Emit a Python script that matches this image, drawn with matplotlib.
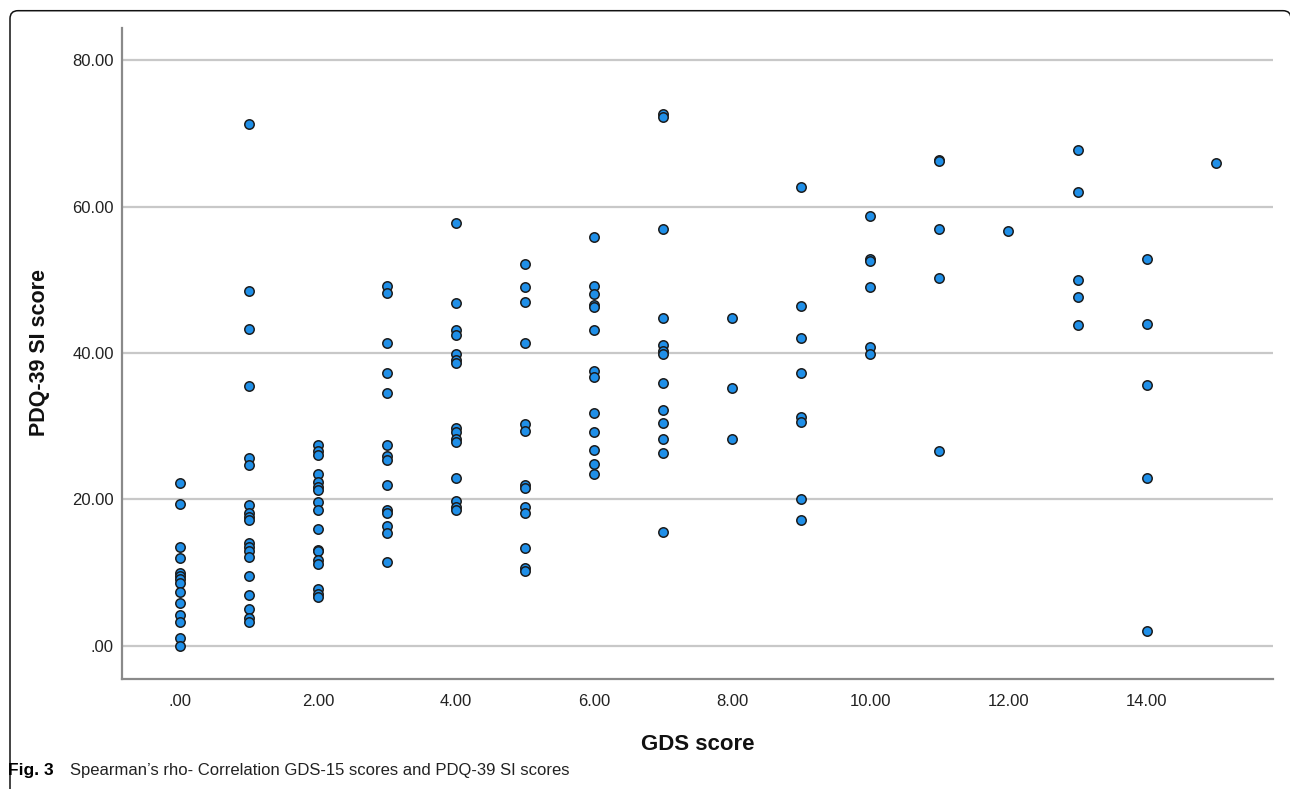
import matplotlib
matplotlib.use("Agg")
import matplotlib.pyplot as plt
from matplotlib.patches import FancyBboxPatch
from matplotlib.ticker import FuncFormatter

# GDS score (x) levels and the PDQ-39 SI scores read at each level
gds_levels = [0, 1, 2, 3, 4, 5, 6, 7, 8, 9, 10, 11, 12, 13, 14, 15]
pdq_by_level = [
    [22.3, 19.4, 13.5, 12.0, 9.9, 9.5, 9.1, 8.5, 7.3, 5.8, 4.2, 3.2, 1.0, 0.0],
    [71.3, 48.5, 43.3, 35.5, 25.6, 24.7, 19.2, 18.1, 17.6, 17.2, 14.1, 13.5, 13.0, 12.1, 9.5, 6.9, 5.0, 3.8, 3.3],
    [27.4, 26.6, 26.0, 23.5, 22.4, 21.7, 21.3, 19.7, 18.5, 16.0, 13.1, 12.9, 11.7, 11.2, 7.7, 7.0, 6.7],
    [49.1, 48.2, 41.3, 37.2, 34.5, 27.4, 25.9, 25.4, 21.9, 18.6, 18.1, 16.3, 15.4, 11.4],
    [57.8, 46.8, 43.1, 42.4, 39.9, 39.1, 38.6, 29.7, 29.2, 28.2, 27.9, 22.9, 19.8, 19.0, 18.5],
    [52.1, 49.0, 47.0, 41.4, 30.3, 29.4, 22.0, 21.5, 19.0, 18.1, 13.3, 10.6, 10.2],
    [55.8, 49.2, 48.0, 46.5, 46.3, 43.2, 37.5, 36.7, 31.8, 29.2, 26.7, 24.8, 23.5],
    [72.6, 72.3, 56.9, 44.8, 41.1, 40.3, 39.9, 35.9, 32.2, 30.4, 28.3, 26.3, 15.5],
    [44.8, 35.2, 28.3],
    [62.7, 46.4, 42.0, 37.2, 31.2, 30.6, 20.0, 17.2],
    [58.7, 52.8, 52.6, 49.0, 40.8, 39.8],
    [66.4, 66.3, 56.9, 50.3, 26.6],
    [56.7],
    [67.8, 62.0, 50.0, 47.6, 43.8],
    [52.9, 44.0, 35.6, 22.9, 2.0],
    [66.0],
]
x_ticks = [0, 2, 4, 6, 8, 10, 12, 14]
y_ticks = [0, 20, 40, 60, 80]

gds = []
pdq = []
for level, values in zip(gds_levels, pdq_by_level):
    for v in values:
        gds.append(level)
        pdq.append(v)


def spss_fmt(v, pos=None):
    # SPSS style: ".00", "2.00", ...
    s = f"{v:.2f}"
    if s.startswith("0."):
        s = s[1:]
    return s


plt.rcParams["font.family"] = ["Liberation Sans", "DejaVu Sans"]

fig = plt.figure(figsize=(12.9, 7.89), dpi=100)
ax = fig.add_axes([122.3 / 1290, 1 - 678.7 / 789, (1273.3 - 122.3) / 1290, (678.7 - 28) / 789])

ax.scatter(gds, pdq, s=46, color="#1f8fe8", edgecolor="#1c1c1c", linewidth=1.1, zorder=3)

ax.set_xlim(-0.836, 15.836)
ax.set_ylim(-4.51, 84.41)
ax.set_xticks(x_ticks)
ax.set_yticks(y_ticks)
ax.xaxis.set_major_formatter(FuncFormatter(spss_fmt))
ax.yaxis.set_major_formatter(FuncFormatter(spss_fmt))
ax.tick_params(axis="both", length=0, labelsize=12, labelcolor="#222222")
ax.tick_params(axis="x", pad=11)
ax.tick_params(axis="y", pad=6)

ax.grid(axis="y", color="#c8c8c8", linewidth=1.6, zorder=0)
ax.set_axisbelow(True)
for side in ["top", "right"]:
    ax.spines[side].set_visible(False)
for side in ["left", "bottom"]:
    ax.spines[side].set_color("#8a8a8a")
    ax.spines[side].set_linewidth(1.6)

fig.text(697.5 / 1290, 1 - 745 / 789, "GDS score", ha="center", va="center",
         fontsize=16, fontweight="bold", color="#111111")
fig.text(40 / 1290, 1 - 353 / 789, "PDQ-39 SI score", ha="center", va="center",
         rotation=90, fontsize=15.5, fontweight="bold", color="#111111")

# caption
fig.text(8 / 1290, 1 - 771 / 789, "Fig. 3", ha="left", va="center",
         fontsize=12.5, fontweight="bold")
fig.text(70 / 1290, 1 - 771 / 789,
         "Spearman\u2019s rho- Correlation GDS-15 scores and PDQ-39 SI scores",
         ha="left", va="center", fontsize=12, color="#222222")

# panel frame, right and bottom sides fall outside the image
frame = FancyBboxPatch((0.10, -1.0), 12.81, 8.783, boxstyle="round,pad=0,rounding_size=0.08",
                       transform=fig.dpi_scale_trans, fill=False, edgecolor="#111111",
                       linewidth=1.1, clip_on=False)
fig.patches.append(frame)

fig.savefig("out.png", dpi=100)
